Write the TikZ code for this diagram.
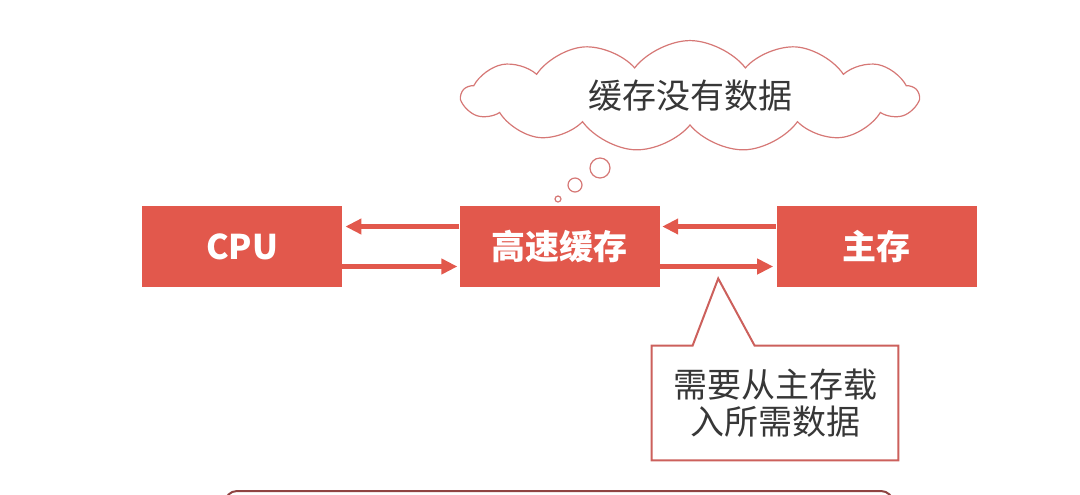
\documentclass[tikz,border=0pt]{standalone}
\usepackage{fontspec}
\setmainfont{Noto Sans CJK SC}
\usepackage{tikz}
\usetikzlibrary{arrows.meta,positioning,calc,shapes.symbols,backgrounds}
\definecolor{cachered}{RGB}{226,88,76}
\definecolor{thoughtred}{RGB}{214,120,118}
\definecolor{notered}{RGB}{204,96,92}
\definecolor{textgray}{RGB}{55,55,55}

\begin{document}
\begin{tikzpicture}[
  unit/.style={rectangle, fill=cachered, text=white, minimum width=100pt, minimum height=40.5pt,
    inner sep=0pt, align=center, font=\fontsize{17}{20}\selectfont\bfseries},
  arr/.style={-{Triangle[length=8pt, width=7.5pt]}, cachered, line width=2.5pt},
  thought/.style={cloud, cloud puffs=13, cloud puff arc=105, aspect=4, draw=thoughtred, line width=0.6pt,
    fill=white, minimum width=228pt, minimum height=54pt, text=textgray, font=\fontsize{17}{20}\selectfont},
  bubble/.style={draw=thoughtred, line width=0.6pt, fill=white},
  note/.style={rectangle, text=textgray, minimum width=123pt, minimum height=57pt, inner sep=0pt,
    align=center, font=\fontsize{17}{18.5}\selectfont},
  noteline/.style={draw=notered, line width=1pt, fill=white}]
\useasboundingbox (0pt,0pt) rectangle (540pt,-247pt);
\node[unit] (cpu) at (121pt,-123.25pt) {CPU};
\node[unit, right=58.5pt of cpu] (cache) {高速缓存};
\node[unit, right=58pt of cache] (mem) {主存};
\draw[arr] ([yshift=10pt]cache.west) -- ([yshift=10pt,xshift=1.5pt]cpu.east);
\draw[arr] ([yshift=-10pt]cpu.east) -- ([yshift=-10pt,xshift=-1pt]cache.west);
\draw[arr] ([yshift=10pt]mem.west) -- ([yshift=10pt,xshift=1pt]cache.east);
\draw[arr] ([yshift=-10pt]cache.east) -- ([yshift=-10pt,xshift=-1.5pt]mem.west);
% thought cloud above the cache
\node[thought] (miss) at (345pt,-48pt) {缓存没有数据};
\draw[bubble] (300pt,-84pt) circle (5pt);
\draw[bubble] (287.5pt,-92.5pt) circle (3.5pt);
\draw[bubble] (279pt,-99.5pt) circle (1.5pt);
% callout below the arrows
\coordinate (tip) at ([yshift=-16pt]$(cache.east)!0.5!(mem.west)$);
\node[note] (load) at (387.5pt,-201.5pt) {需要从主存载\\入所需数据};
\begin{scope}[on background layer]
\draw[noteline] (load.south west) -- (load.north west) -- ([xshift=20.5pt]load.north west)
  -- (tip) -- ([xshift=51.5pt]load.north west) -- (load.north east) -- (load.south east) -- cycle;
\end{scope}
% next box, cut off at the bottom
\begin{scope}
\clip (0pt,0pt) rectangle (540pt,-247pt);
\draw[notered!70!black, line width=1pt, rounded corners=6pt] (112.5pt,-245.5pt) rectangle (446.5pt,-280pt);
\end{scope}
\end{tikzpicture}
\end{document}
